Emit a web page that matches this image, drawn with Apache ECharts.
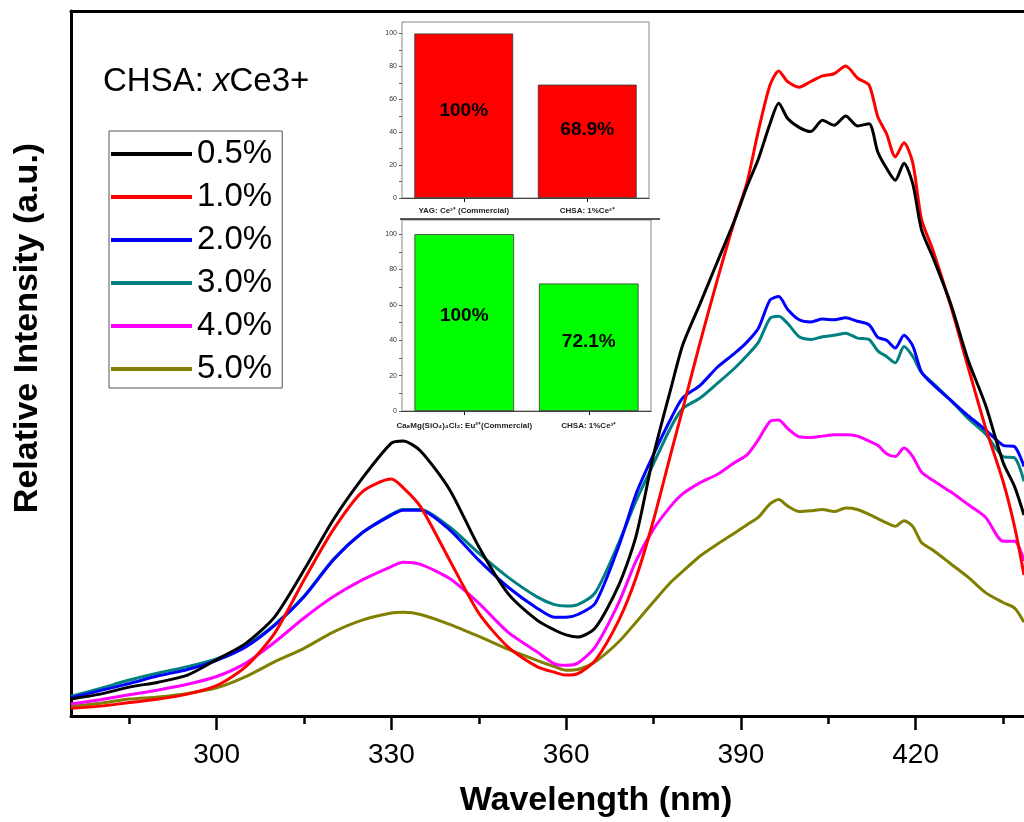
<!DOCTYPE html>
<html>
<head>
<meta charset="utf-8">
<script src="https://cdn.jsdelivr.net/npm/echarts@6/dist/echarts.min.js"></script>
<style>
html,body{margin:0;padding:0;background:#fff;overflow:hidden;}
#chart{width:1024px;height:822px;}
</style>
</head>
<body>
<div id="chart"></div>
<script>
// ---------------- data ----------------
const wavelength = [275,280,285,290,295,300,305,310,315,320,325,330,332,335,340,345,350,355,358,360,362,365,369,372,375,378,380,383,386,389,391,393,395,396.5,398,400,402,404,406,408,410,412,413.5,415,416.5,418,419.5,421,423,426,429,432,435,437,438.6];

const int05 = [2.4,3.1,4.1,4.8,5.8, 8.0,10.3,14.1,20.7,27.8, 33.7,38.7,39.0,37.6,32.1, 24.0,17.4,13.6,12.2,11.5, 11.2,12.5,18.5,25.5,37.0, 46.5,52.6,58.5,64.5,70.5, 75.0,79.0,84.0,86.9,84.8, 83.5,82.9,84.5,83.8,85.1, 83.7,84.0,80.0,77.7,76.0, 78.4,75.5,69.0,65.0,58.5, 50.5,44.1,36.0,32.5,28.5];
const int10 = [1.1,1.4,1.9,2.4,3.1, 4.3,7.0,11.8,19.3,26.4, 31.8,33.6,32.4,29.7,22.1, 14.6,9.8,7.0,6.2,5.8, 6.0,7.9,13.5,19.6,27.8, 37.3,43.5,53.0,62.0,70.5, 75.5,83.0,89.5,91.5,90.0, 89.2,90.0,90.8,91.1,92.2, 90.5,89.5,85.0,82.6,79.3, 81.3,78.5,70.5,66.0,58.2, 49.5,40.9,33.3,26.8,20.0];
const int20 = [2.6,3.6,4.6,5.7,6.6, 7.9,9.8,12.9,16.9,22.1, 26.0,28.5,29.2,29.2,26.4, 22.1,18.3,15.3,14.0,14.0, 14.4,16.0,24.0,31.5,37.1, 42.2,45.1,46.9,49.5,51.5, 53.0,55.0,59.0,59.5,57.7, 56.2,55.9,56.3,56.2,56.5, 56.0,55.5,53.7,53.3,52.2, 54.0,52.5,48.8,47.0,44.8, 42.6,40.6,38.4,38.2,35.4];
const int30 = [2.8,3.9,5.1,6.1,7.0, 8.1,10.0,13.0,17.0,22.2, 26.0,28.6,29.3,29.3,26.8, 23.1,19.7,16.9,15.8,15.6, 15.8,17.5,24.5,30.5,35.8, 41.0,43.6,45.1,47.2,49.4, 51.1,53.0,56.4,56.7,55.7, 53.8,53.4,53.8,54.0,54.3, 53.6,53.4,51.8,51.0,50.1, 52.4,51.0,48.7,47.2,44.8, 42.2,40.0,36.8,36.6,33.3];
const int40 = [1.7,2.3,3.0,3.7,4.5, 5.6,7.5,10.5,13.9,16.9, 19.3,21.2,21.8,21.5,19.5, 16.0,11.9,9.1,7.4,7.2, 7.5,9.8,16.0,22.0,26.5, 29.8,31.5,33.1,34.3,36.0, 37.0,39.2,41.8,42.0,40.8, 39.6,39.5,39.7,39.9,39.9, 39.7,39.0,38.4,37.2,36.8, 38.0,36.8,34.6,33.4,31.8, 30.0,28.2,24.8,24.8,22.0];
const int50 = [1.4,1.8,2.4,2.7,3.2, 4.0,5.6,7.7,9.6,11.9, 13.6,14.6,14.7,14.4,13.0, 11.3,9.5,7.9,7.0,6.5, 6.6,7.7,10.5,13.3,16.2, 19.0,20.5,22.7,24.4,26.0, 27.1,28.2,30.1,30.7,29.8, 29.0,29.1,29.3,29.0,29.5, 29.3,28.6,28.0,27.4,26.9, 27.7,26.9,24.6,23.5,21.6, 19.7,17.5,16.1,15.3,13.3];

const seriesNames = ['0.5%','1.0%','2.0%','3.0%','4.0%','5.0%'];
const seriesColors = ['#000000','#ff0000','#0000ff','#008080','#ff00ff','#808000'];
const seriesValues = [int05,int10,int20,int30,int40,int50];

const xMajorTicks = [300,330,360,390,420];
const xMinorTicks = [285,315,345,375,405,435];

const insetCatsA = ['YAG: Ce\u00b3\u207a (Commercial)', 'CHSA: 1%Ce\u00b3\u207a'];
const insetValsA = [100, 68.9];
const insetCatsB = ['Ca\u2088Mg(SiO\u2084)\u2084Cl\u2082: Eu\u00b2\u207a(Commercial)', 'CHSA: 1%Ce\u00b3\u207a'];
const insetValsB = [100, 72.1];
const insetTickLabels = [0,20,40,60,80,100];
const insetTickMarks = [0,10,20,30,40,50,60,70,80,90,100];

// ---------------- chart ----------------
const FONT = '"Liberation Sans", Arial, Helvetica, sans-serif';
const chart = echarts.init(document.getElementById('chart'), null, {renderer:'canvas'});
const XMIN = 275, XMAX = 438.6;

function insetY(gridIndex, max){
  return {
    type:'value', gridIndex:gridIndex, min:0, max:max,
    axisLine:{show:true, lineStyle:{color:'#333', width:1}},
    axisTick:{show:true, length:3, lineStyle:{color:'#333', width:0.8}, customValues:insetTickMarks},
    axisLabel:{show:true, fontSize:7, color:'#333', fontFamily:FONT, margin:5, customValues:insetTickLabels},
    splitLine:{show:false}
  };
}
function insetX(gridIndex, cats, margin){
  return {
    type:'category', gridIndex:gridIndex, data:cats,
    axisLine:{show:true, lineStyle:{color:'#000', width:1}},
    axisTick:{show:true, alignWithLabel:true, length:4, lineStyle:{color:'#000'}},
    axisLabel:{fontSize:8, fontWeight:'bold', color:'#222', fontFamily:FONT, margin:margin, interval:0},
    splitLine:{show:false}
  };
}
function barData(vals, positions){
  return vals.map((v,i)=>({
    value:v,
    label:{position:['50%', positions[i]]}
  }));
}

const mainSeries = seriesNames.map((name,k)=>({
  name:name, type:'line', xAxisIndex:0, yAxisIndex:0,
  data: wavelength.map((w,i)=>[w, seriesValues[k][i]]),
  showSymbol:false, symbol:'none', smooth:0.25,
  lineStyle:{color:seriesColors[k], width:3},
  itemStyle:{color:seriesColors[k]},
  z: 2 + (5-k)*0.01
}));

const option = {
  animation:false,
  backgroundColor:'#ffffff',
  textStyle:{fontFamily:FONT},
  grid:[
    {left:71, right:0, top:11, bottom:106, containLabel:false},
    {left:402, top:22, width:247, height:176, show:true, borderColor:'#888', borderWidth:1, backgroundColor:'#fff', z:5},
    {left:402, top:220, width:249, height:191, show:true, borderColor:'#888', borderWidth:1, backgroundColor:'#fff', z:5}
  ],
  xAxis:[
    {type:'value', gridIndex:0, min:XMIN, max:XMAX, position:'bottom',
     axisLine:{show:true, onZero:false, lineStyle:{color:'#000', width:3}},
     axisTick:{show:true, length:14, lineStyle:{color:'#000', width:2.5}, customValues:xMajorTicks},
     axisLabel:{show:true, fontSize:28, color:'#000', fontFamily:FONT, margin:25, customValues:xMajorTicks},
     splitLine:{show:false}},
    {type:'value', gridIndex:0, min:XMIN, max:XMAX, position:'bottom',
     axisLine:{show:false},
     axisTick:{show:true, length:8, lineStyle:{color:'#000', width:2.5}, customValues:xMinorTicks},
     axisLabel:{show:false}, splitLine:{show:false}},
    {type:'value', gridIndex:0, min:XMIN, max:XMAX, position:'top',
     axisLine:{show:true, onZero:false, lineStyle:{color:'#000', width:3}},
     axisTick:{show:false}, axisLabel:{show:false}, splitLine:{show:false}},
    insetX(1, insetCatsA, 9),
    insetX(2, insetCatsB, 11)
  ],
  yAxis:[
    {type:'value', gridIndex:0, min:0, max:100,
     axisLine:{show:true, onZero:false, lineStyle:{color:'#000', width:3}},
     axisTick:{show:false}, axisLabel:{show:false}, splitLine:{show:false}},
    insetY(1, 107),
    insetY(2, 108)
  ],
  legend:{
    data:seriesNames, orient:'vertical', left:109, top:131,
    width:174, itemWidth:81, itemHeight:4, itemGap:7, icon:'rect',
    padding:[5,10,1,2],
    borderColor:'#555', borderWidth:1, backgroundColor:'#fff',
    textStyle:{fontSize:33, color:'#000', fontFamily:FONT, lineHeight:36},
    selectedMode:false
  },
  series: mainSeries.concat([
    {type:'bar', xAxisIndex:3, yAxisIndex:1, barWidth:'80%', z:6,
     data: barData(insetValsA, ['47%','40%']),
     itemStyle:{color:'#ff0000', borderColor:'#333', borderWidth:0.8},
     label:{show:true, formatter:p=>p.value+'%', fontSize:19, fontWeight:'bold', color:'#000', fontFamily:FONT, align:'center', verticalAlign:'middle'}},
    {type:'bar', xAxisIndex:4, yAxisIndex:2, barWidth:'80%', z:6,
     data: barData(insetValsB, ['46%','46%']),
     itemStyle:{color:'#00ff00', borderColor:'#333', borderWidth:0.8},
     label:{show:true, formatter:p=>p.value+'%', fontSize:19, fontWeight:'bold', color:'#000', fontFamily:FONT, align:'center', verticalAlign:'middle'}}
  ]),
  graphic:[
    {type:'text', x:28, y:328, rotation:Math.PI/2, z:10,
     style:{text:'Relative Intensity (a.u.)', font:'bold 34px '+FONT, fill:'#000', align:'center', verticalAlign:'middle'}},
    {type:'text', x:596, y:801, z:10,
     style:{text:'Wavelength (nm)', font:'bold 34px '+FONT, fill:'#000', align:'center', verticalAlign:'middle'}},
    {type:'text', x:103, y:82, z:10,
     style:{text:'{n|CHSA: }{i|x}{n|Ce3+}', verticalAlign:'middle', align:'left',
       rich:{n:{fontSize:33, fontFamily:FONT, fill:'#000'}, i:{fontSize:33, fontFamily:FONT, fontStyle:'italic', fill:'#000'}}}},
    {type:'line', z:10, shape:{x1:400, y1:219, x2:660, y2:219}, style:{stroke:'#222', lineWidth:1.5}}
  ]
};
chart.setOption(option);
</script>
</body>
</html>
